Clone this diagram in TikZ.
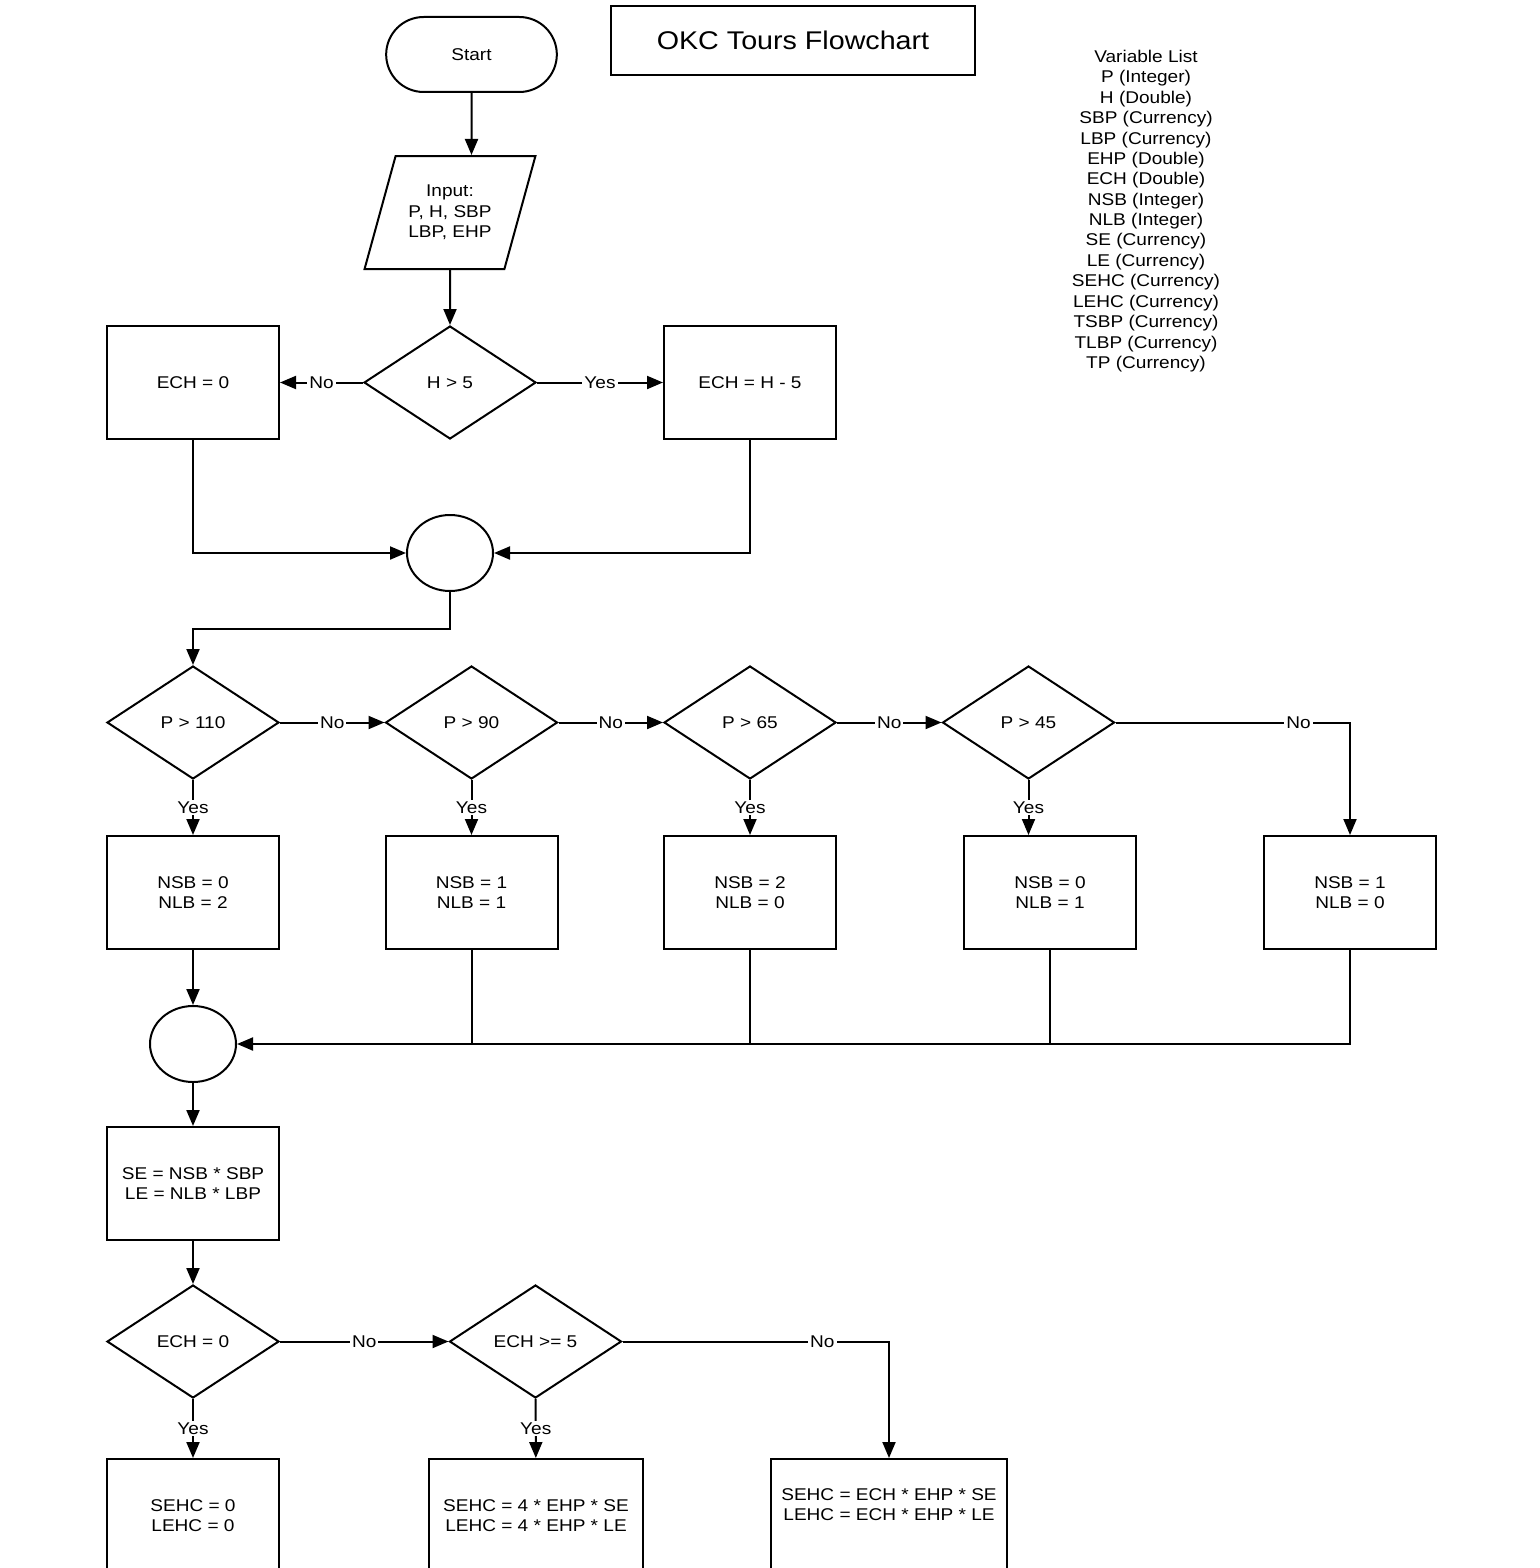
\documentclass[tikz,border=0pt]{standalone}
\usepackage{fontspec}
\setmainfont{Liberation Sans}[FakeStretch=1.12]
\usetikzlibrary{arrows.meta,shapes.geometric,shapes.misc}

\begin{document}
\begin{tikzpicture}[x=0.5pt,y=-0.5pt]
\tikzset{
  flowtext/.style={font=\fontsize{8.5pt}{10.2pt}\selectfont},
  flowbox/.style={rectangle,draw=black,line width=1pt,minimum width=86pt,minimum height=56.5pt,inner sep=2pt,align=center,flowtext},
  decision/.style={diamond,draw=black,line width=1pt,minimum width=86pt,minimum height=56.5pt,inner sep=0pt,flowtext},
  terminal/.style={rounded rectangle,draw=black,line width=1pt,minimum width=92pt,minimum height=37.5pt,flowtext},
  iobox/.style={trapezium,trapezium left angle=67,trapezium right angle=113,trapezium stretches=true,draw=black,line width=1pt,minimum width=86pt,minimum height=56.5pt,inner sep=1pt,align=center,flowtext},
  joinnode/.style={ellipse,draw=black,line width=1pt,minimum width=43pt,minimum height=38pt,inner sep=0pt},
  titlebox/.style={rectangle,draw=black,line width=1pt,minimum width=182pt,minimum height=34.5pt,font=\fontsize{12.8pt}{15pt}\selectfont},
  varlist/.style={align=center,inner sep=0pt,flowtext},
  flowline/.style={draw=black,line width=1pt},
  flowarrow/.style={flowline,-{Triangle[length=8pt,width=6.5pt]}},
  lbl/.style={fill=white,inner sep=1pt,flowtext}
}
\useasboundingbox (0,0) rectangle (1540,1568);
% header
\node[terminal] (start) at (471.5,54.5) {Start};
\node[titlebox] (title) at (793,40.5) {OKC Tours Flowchart};
\node[varlist] (vars) at (1146,211) {Variable List\\P (Integer)\\H (Double)\\SBP (Currency)\\LBP (Currency)\\EHP (Double)\\ECH (Double)\\NSB (Integer)\\NLB (Integer)\\SE (Currency)\\LE (Currency)\\SEHC (Currency)\\LEHC (Currency)\\TSBP (Currency)\\TLBP (Currency)\\TP (Currency)};
% extra hours
\node[iobox] (inp) at (450,212.5) {Input:\\P, H, SBP\\LBP, EHP};
\node[decision] (hcheck) at (450,382.5) {H > 5};
\node[flowbox] (ech0) at (193,382.5) {ECH = 0};
\node[flowbox] (echh) at (750,382.5) {ECH = H - 5};
\node[joinnode] (join1) at (450,553) {};
% party size
\node[decision] (p110) at (193,722.5) {P > 110};
\node[decision] (p90) at (471.5,722.5) {P > 90};
\node[decision] (p65) at (750,722.5) {P > 65};
\node[decision] (p45) at (1028.5,722.5) {P > 45};
\node[flowbox] (bus0) at (193,892.5) {NSB = 0\\NLB = 2};
\node[flowbox] (bus1) at (471.5,892.5) {NSB = 1\\NLB = 1};
\node[flowbox] (bus2) at (750,892.5) {NSB = 2\\NLB = 0};
\node[flowbox] (bus3) at (1050,892.5) {NSB = 0\\NLB = 1};
\node[flowbox] (bus4) at (1350,892.5) {NSB = 1\\NLB = 0};
\node[joinnode] (join2) at (193,1044) {};
% expenses
\node[flowbox] (sele) at (193,1183.5) {SE = NSB * SBP\\LE = NLB * LBP};
\node[decision] (echz) at (193,1341.5) {ECH = 0};
\node[decision] (echf) at (535.5,1341.5) {ECH >= 5};
\node[flowbox] (hc0) at (193,1515.5) {SEHC = 0\\LEHC = 0};
\node[flowbox,minimum width=107pt] (hc4) at (536,1515.5) {SEHC = 4 * EHP * SE\\LEHC = 4 * EHP * LE};
\node[flowbox,minimum width=118pt,text depth=11pt] (hcx) at (889,1515.5) {SEHC = ECH * EHP * SE\\LEHC = ECH * EHP * LE};
% connectors
\draw[flowarrow] (start) -- (start |- inp.north);
\draw[flowarrow] (inp) -- (hcheck);
\draw[flowarrow] (hcheck) -- node[lbl]{No} (ech0);
\draw[flowarrow] (hcheck) -- node[lbl]{Yes} (echh);
\draw[flowarrow] (ech0) |- (join1);
\draw[flowarrow] (echh) |- (join1);
\draw[flowarrow] (join1.south) -- ++(0,37) -| (p110);
\draw[flowarrow] (p110) -- node[lbl]{No} (p90);
\draw[flowarrow] (p90) -- node[lbl]{No} (p65);
\draw[flowarrow] (p65) -- node[lbl]{No} (p45);
\draw[flowarrow] (p45) -| node[lbl,pos=0.39]{No} (bus4);
\draw[flowarrow] (p110) -- node[lbl]{Yes} (bus0);
\draw[flowarrow] (p90) -- node[lbl]{Yes} (bus1);
\draw[flowarrow] (p65) -- node[lbl]{Yes} (bus2);
\draw[flowarrow] (p45) -- node[lbl]{Yes} (p45 |- bus3.north);
\draw[flowarrow] (bus0) -- (join2);
\draw[flowarrow] (bus4) |- (join2);
\foreach \b in {bus1,bus2,bus3}
  \draw[flowline] (\b.south) -- (\b.south |- join2);
\draw[flowarrow] (join2) -- (sele);
\draw[flowarrow] (sele) -- (echz);
\draw[flowarrow] (echz) -- node[lbl]{No} (echf);
\draw[flowarrow] (echf) -| node[lbl,pos=0.375]{No} (hcx);
\draw[flowarrow] (echz) -- node[lbl]{Yes} (hc0);
\draw[flowarrow] (echf) -- node[lbl]{Yes} (hc4);
\end{tikzpicture}
\end{document}
